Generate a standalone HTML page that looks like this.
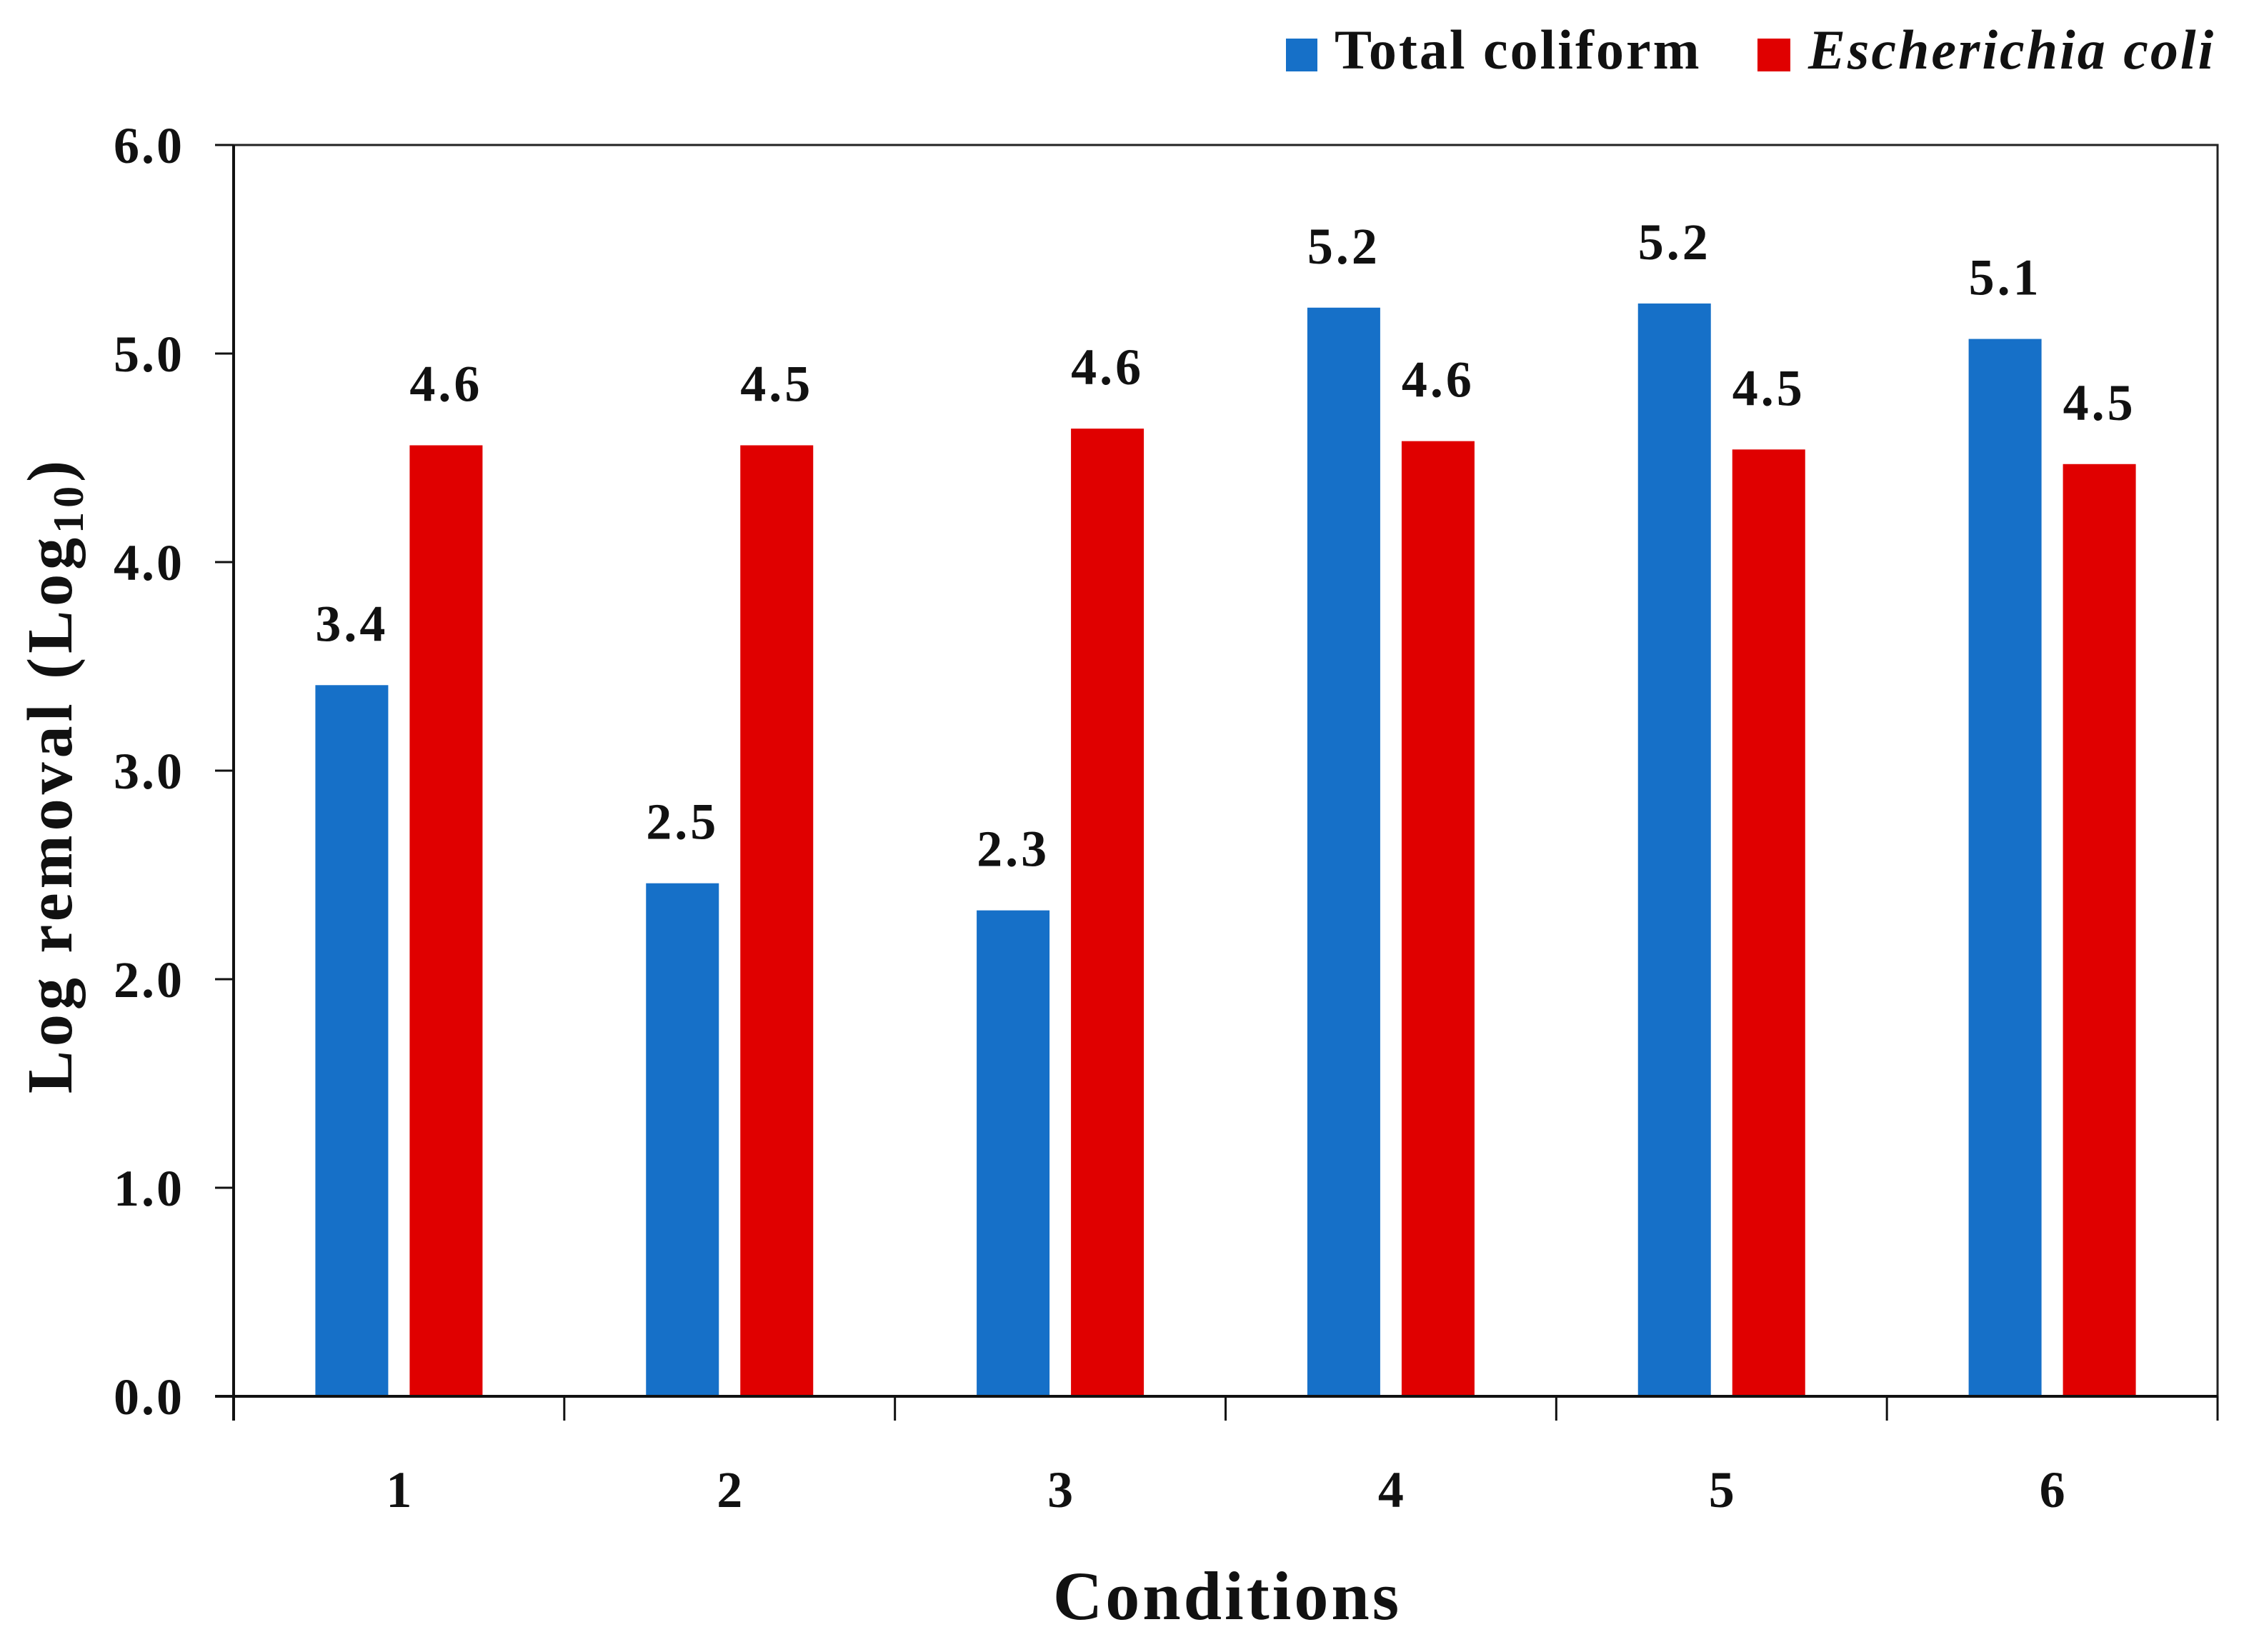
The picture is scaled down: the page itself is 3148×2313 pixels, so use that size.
<!DOCTYPE html>
<html><head><meta charset="utf-8"><style>
html,body{margin:0;padding:0;background:#fff;}
svg{display:block;}
text{font-family:"Liberation Serif",serif;font-weight:bold;fill:#111;}
</style></head><body>
<svg id="chart" width="3148" height="2313" viewBox="0 0 3148 2313" xmlns="http://www.w3.org/2000/svg">
<rect width="3148" height="2313" fill="#fff"/>
<g id="legend">
 <g>
  <rect x="1800" y="54" width="44" height="46" fill="#1670c8"/>
  <text x="1868" y="96" font-size="78" letter-spacing="3">Total coliform</text>
 </g>
 <g>
  <rect x="2460" y="54" width="46" height="46" fill="#e00000"/>
  <text x="2531" y="96" font-size="78" letter-spacing="3" font-style="italic">Escherichia coli</text>
 </g>
</g>
<g id="plot"></g>
<text transform="translate(100,1085) rotate(-90)" text-anchor="middle" font-size="90" letter-spacing="6">Log removal (Log<tspan font-size="60" dy="16">10</tspan><tspan dy="-16">)</tspan></text>
<text x="1718" y="2267" text-anchor="middle" font-size="96" letter-spacing="4">Conditions</text>
</svg>
<script>
const categories = ["1","2","3","4","5","6"];
const totalColiform = [3.41, 2.46, 2.33, 5.22, 5.24, 5.07];
const eColi = [4.56, 4.56, 4.64, 4.58, 4.54, 4.47];
const totalLabels = ["3.4","2.5","2.3","5.2","5.2","5.1"];
const eColiLabels = ["4.6","4.5","4.6","4.6","4.5","4.5"];
const yTicks = [0,1,2,3,4,5,6];
const yTickLabels = ["0.0","1.0","2.0","3.0","4.0","5.0","6.0"];

const NS="http://www.w3.org/2000/svg";
const X0=327, X1=3104, Y0=1955, Y1=203, YMAX=6;
const band=(X1-X0)/categories.length;
const y=v=>Y0-(v/YMAX)*(Y0-Y1);
const xBand=i=>X0+i*band;
const g=document.getElementById('plot');
function mk(tag,attrs){const e=document.createElementNS(NS,tag);for(const k in attrs)e.setAttribute(k,attrs[k]);g.appendChild(e);return e;}

let fr=mk('path',{d:`M${X0},${Y1} H${X1} V${Y0}`,fill:'none',stroke:'#222','stroke-width':3});



const bw=102, gap=30;
categories.forEach((c,i)=>{
  const cx=xBand(i)+band/2;
  const bx=cx-gap/2-bw, rx=cx+gap/2;
  let b=mk('rect',{x:bx,y:y(totalColiform[i]),width:bw,height:Y0-y(totalColiform[i]),fill:'#1670c8'});
  
  
  let r=mk('rect',{x:rx,y:y(eColi[i]),width:bw,height:Y0-y(eColi[i]),fill:'#e00000'});
  
  
  let t1=mk('text',{x:bx+bw/2,y:y(totalColiform[i])-62,'text-anchor':'middle','font-size':72,'letter-spacing':4});
  t1.textContent=totalLabels[i];
  
  
  let t2=mk('text',{x:rx+bw/2,y:y(eColi[i])-62,'text-anchor':'middle','font-size':72,'letter-spacing':4});
  t2.textContent=eColiLabels[i];
  
  
  let xl=mk('text',{x:cx,y:2110,'text-anchor':'middle','font-size':72});
  xl.textContent=c;
  
  
});
let xa=mk('line',{x1:X0-26,y1:Y0,x2:X1,y2:Y0,stroke:'#111','stroke-width':4});


for(let i=0;i<=categories.length;i++){
  let tk=mk('line',{x1:xBand(i),y1:Y0,x2:xBand(i),y2:Y0+34,stroke:'#111','stroke-width':3});
  
  
}
let ya=mk('line',{x1:X0,y1:Y1,x2:X0,y2:Y0+34,stroke:'#111','stroke-width':4});


yTicks.forEach((v,i)=>{
  let tk=mk('line',{x1:X0-26,y1:y(v),x2:X0,y2:y(v),stroke:'#111','stroke-width':3});
  
  
  let tl=mk('text',{x:258,y:y(v)+25,'text-anchor':'end','font-size':72,'letter-spacing':3});
  tl.textContent=yTickLabels[i];
  
  
});
</script>
</body></html>
